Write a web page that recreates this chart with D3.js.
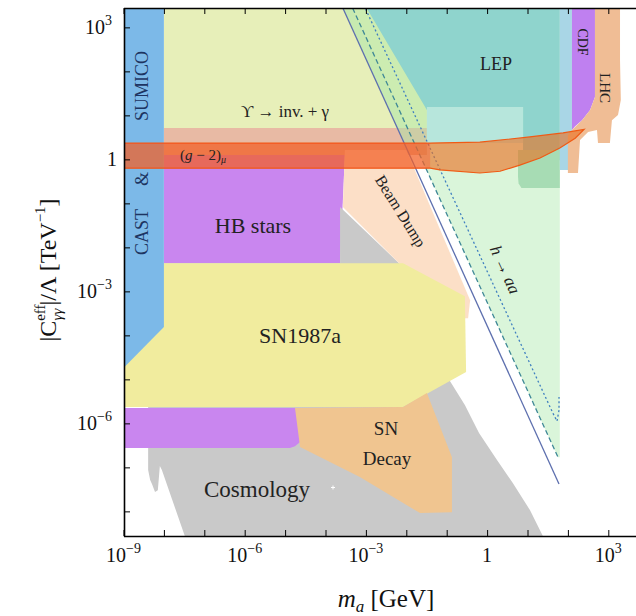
<!DOCTYPE html>
<html><head><meta charset="utf-8">
<script src="https://cdn.jsdelivr.net/npm/d3@7"></script>
<style>
body{margin:0;background:#fff;}
svg{display:block;}
text{font-family:"Liberation Serif","DejaVu Serif",serif;}
</style>
</head><body>
<svg id="c" width="636" height="616"></svg>
<script>
// ---- data: vertices as [log10(m_a / GeV), log10(|C_eff| / Lambda · TeV)] ----
const castSumico = [[-9,3.6],[-8,3.6],[-8,-3.81],[-9,-4.74]];
const upsilon = [[-8,3.6],[-1.49,3.6],[-1.49,0.71],[-8,0.71]];
const salmonBand = [[-8,0.71],[-1.49,0.71],[-1.49,0.10],[-8,0.10]];
const hbStars = [[-8,0.10],[-3.52,0.10],[-3.64,-2.36],[-8,-2.36]];
const beamDump = [[-3.52,0.21],[-2.0,0.21],[-0.42,-3.20],[-0.47,-3.61],[-0.82,-3.61],[-2.18,-2.36],[-3.57,-1.08]];
const cosmology = [[-3.64,-1.08],[-2.18,-2.36],[-0.94,-3.8],[-0.92,-5.04],[-0.55,-5.58],[-0.20,-6.22],[0.245,-6.83],[0.64,-7.36],[1.06,-7.97],[1.38,-8.56],[1.40,-8.7],[-7.43,-8.7],[-8.05,-7.06],[-8.10,-6.97],[-8.15,-7.52],[-8.22,-7.56],[-8.295,-7.38],[-8.34,-7.29],[-8.39,-7.06],[-8.39,-6.56],[-8.39,-2.36],[-3.64,-2.36]];
const sn1987a = [[-9,-2.36],[-2.08,-2.36],[-0.55,-3.11],[-0.52,-4.83],[-2.08,-5.63],[-9,-5.63]];
const hbLow = [[-9,-5.65],[-4.26,-5.65],[-4.235,-5.81],[-4.33,-6.11],[-4.51,-6.33],[-4.755,-6.52],[-4.88,-6.56],[-9,-6.56]];
const snDecay = [[-4.755,-5.65],[-2.08,-5.63],[-1.49,-5.31],[-0.87,-6.77],[-0.87,-8.02],[-1.66,-8.04],[-3.15,-7.22],[-4.63,-6.54]];
const higgsAA = [[-3.41,3.6],[1.755,-6.77],[1.80,-6.77],[1.80,3.6]];
const higgsStrip = [[-3.65,3.6],[-3.41,3.6],[-1.80,0.37],[-2.05,0.37]];
const lepMain = [[-3.10,3.62],[1.80,3.62],[1.80,-0.02],[0.89,-0.02],[0.89,1.19],[-0.84,1.19],[-1.49,1.12]];
const lepLow = [[-1.49,1.19],[0.89,1.19],[0.89,0.37],[-1.49,0.37]];
const lepGreen = [[0.765,0.21],[1.80,0.21],[1.80,-0.65],[0.85,-0.65],[0.78,-0.55],[0.765,-0.4]];
const lepStrip = [[1.80,3.6],[2.10,3.6],[2.10,-0.24],[1.80,-0.24]];
const cdf = [[2.10,3.6],[2.67,3.6],[2.67,1.42],[2.55,1.12],[2.35,0.89],[2.18,0.75],[2.10,0.67]];
const lhc = [[2.67,3.6],[3.29,3.6],[3.29,2.26],[3.31,1.35],[3.24,1.01],[3.09,0.89],[3.04,0.37],[2.745,0.37],[2.72,0.67],[2.50,0.62],[2.30,0.44],[2.25,-0.31],[2.00,-0.31],[2.00,0.55],[2.10,0.67],[2.35,0.89],[2.55,1.12],[2.67,1.42]];
const gMinus2 = [[-9,0.37],[-1.41,0.37],[-0.18,0.39],[1.06,0.51],[1.88,0.60],[2.40,0.68],[2.18,0.48],[1.80,0.26],[1.31,0.03],[0.81,-0.13],[0.32,-0.27],[-0.18,-0.31],[-1.17,-0.24],[-1.41,-0.20],[-9,-0.20]];
const gMinus2Core = [[-9,0.37],[-1.41,0.37],[-1.41,-0.20],[-9,-0.20]];
const lineSolid = [[-3.65,3.6],[1.78,-7.38]];
const lineDashed = [[-3.41,3.6],[1.755,-6.77]];
const lineDotted = [[-3.10,3.6],[1.63,-5.77],[1.73,-5.95],[1.78,-5.70],[1.78,-5.40]];
const xTickExp = [-9,-8,-7,-6,-5,-4,-3,-2,-1,0,1,2,3];
const yTickExp = [-8,-7,-6,-5,-4,-3,-2,-1,0,1,2,3];
const xLabelExp = [-9,-6,-3,0,3];
const yLabelExp = [3,0,-3,-6];

// ---- scales ----
const W = 636, H = 616;
const x = d3.scaleLog().domain([1e-9, 1e4]).range([123.5, 648.7]);
const y = d3.scaleLog().domain([Math.pow(10,-8.56), Math.pow(10,3.44)]).range([536, 8]);
const X = e => x(Math.pow(10, e));
const Y = e => y(Math.pow(10, e));
const svg = d3.select("#c");
const line = d3.line().x(d => X(d[0])).y(d => Y(d[1]));
const area = d3.line().x(d => X(d[0])).y(d => Y(d[1])).curve(d3.curveLinearClosed);

svg.append("clipPath").attr("id","plot").append("rect")
  .attr("x",124).attr("y",8).attr("width",W-124).attr("height",528);
const g = svg.append("g").attr("clip-path","url(#plot)");

const regions = [
  {d: upsilon, fill:"#e7efb9"},
  {d: salmonBand, fill:"#e8baa4"},
  {d: hbStars, fill:"#c986ef"},
  {d: cosmology, fill:"#c9c9c9"},
  {d: beamDump, fill:"#fcdfc7"},
  {d: sn1987a, fill:"#f1ec9e"},
  {d: hbLow, fill:"#c986ef"},
  {d: snDecay, fill:"#f0c590"},
  {d: castSumico, fill:"#7cb9e8"},
  {d: higgsAA, fill:"#a8e6a8", op:0.42},
  {d: higgsStrip, fill:"#a8e6a8", op:0.5},
  {d: lepMain, fill:"#8fd4cd"},
  {d: lepLow, fill:"#b7e6dc"},
  {d: lepGreen, fill:"#a7dcb4"},
  {d: lepStrip, fill:"#a9d6e6"},
  {d: cdf, fill:"#bf80f0"},
  {d: lhc, fill:"#f0bd95"}
];
regions.forEach(r => {
  g.append("path").attr("d", area(r.d)).attr("fill", r.fill)
   .attr("fill-opacity", r.op == null ? 1 : r.op);
});

// h -> aa boundaries
g.append("path").attr("d", line(lineSolid)).attr("fill","none")
  .attr("stroke","#5d6fae").attr("stroke-width",1.3);
g.append("path").attr("d", line(lineDashed)).attr("fill","none")
  .attr("stroke","#3f8896").attr("stroke-width",1.3).attr("stroke-dasharray","5,3");
g.append("path").attr("d", line(lineDotted)).attr("fill","none")
  .attr("stroke","#3f7fc0").attr("stroke-width",1.3).attr("stroke-dasharray","2,2.5");

// (g-2)_mu band
g.append("path").attr("d", area(gMinus2)).attr("fill","#ea7020").attr("fill-opacity",0.62)
  .attr("stroke","#f05a14").attr("stroke-width",1.2);
g.append("path").attr("d", area(gMinus2Core)).attr("fill","#ff4a30").attr("fill-opacity",0.3);

// white marker in cosmology region
g.append("path").attr("d","M331,487.5h4M333,485.5v4").attr("stroke","#fff").attr("stroke-width",1);

// ---- axes (inward ticks) ----
const ax = svg.append("g").attr("class","axes");
const styleAxis = sel => {
  sel.selectAll("path.domain").attr("stroke","#000").attr("stroke-width",1.6);
  sel.selectAll(".tick line").attr("stroke","#000").attr("stroke-width",1);
  sel.selectAll(".tick text").remove();
};
ax.append("g").attr("transform","translate(0,536)")
  .call(d3.axisBottom(x).tickValues(xTickExp.map(e=>Math.pow(10,e))).tickSizeInner(-6).tickSizeOuter(0).tickFormat(""))
  .call(styleAxis);
ax.append("g").attr("transform","translate(0,8)")
  .call(d3.axisTop(x).tickValues(xTickExp.map(e=>Math.pow(10,e))).tickSizeInner(-6).tickSizeOuter(0).tickFormat(""))
  .call(styleAxis);
ax.append("g").attr("transform","translate(124,0)")
  .call(d3.axisLeft(y).tickValues(yTickExp.map(e=>Math.pow(10,e))).tickSizeInner(-6).tickSizeOuter(0).tickFormat(""))
  .call(styleAxis);

// tick labels with superscripts
function powLabel(sel, e, fs) {
  if (e === 0) { sel.text("1"); return; }
  sel.append("tspan").text("10");
  sel.append("tspan").attr("dy", -fs*0.45).attr("font-size", fs*0.7).text(e < 0 ? "\u2212" + (-e) : String(e));
}
xLabelExp.forEach(e => {
  const t = svg.append("text").attr("x", X(e)).attr("y", 562).attr("text-anchor","middle")
    .attr("font-size",20).attr("fill","#111");
  powLabel(t, e, 20);
});
yLabelExp.forEach(e => {
  const t = svg.append("text").attr("x", e === 0 ? 117 : 112).attr("y", Y(e) + 7).attr("text-anchor","end")
    .attr("font-size",20).attr("fill","#111");
  powLabel(t, e, 20);
});

// axis titles
const xt = svg.append("text").attr("x",386).attr("y",607).attr("text-anchor","middle")
  .attr("font-size",25).attr("fill","#111");
xt.append("tspan").attr("font-style","italic").text("m");
xt.append("tspan").attr("font-style","italic").attr("font-size",17).attr("dy",5).text("a");
xt.append("tspan").attr("dy",-5).text(" [GeV]");

const yt = svg.append("text").attr("transform","translate(56,270) rotate(-90)")
  .attr("text-anchor","middle").attr("font-size",24).attr("fill","#111");
yt.append("tspan").text("|C");
yt.append("tspan").attr("font-size",15).attr("dy",-11).text("eff");
yt.append("tspan").attr("font-size",15).attr("font-style","italic").attr("dx",-16).attr("dy",17).text("\u03b3\u03b3");
yt.append("tspan").attr("dx",3).attr("dy",-6).text("|/\u039b [TeV");
yt.append("tspan").attr("font-size",15).attr("dy",-11).text("\u22121");
yt.append("tspan").attr("dy",11).text("]");

// region labels
const lab = (txt, px, py, fs, opt={}) => {
  const t = svg.append("text").attr("x",px).attr("y",py).attr("text-anchor","middle")
    .attr("font-size",fs).attr("fill", opt.fill || "#222");
  if (opt.rot != null) t.attr("transform", `rotate(${opt.rot},${px},${py})`);
  return t.text(txt);
};
lab("SUMICO", 148, 86, 18, {rot:-90, fill:"#1d3461"});
lab("&", 148, 179, 18, {rot:-90, fill:"#1d3461"});
lab("CAST", 148, 232, 18, {rot:-90, fill:"#1d3461"});
lab("\u03d2 \u2192 inv. + \u03b3", 285, 117, 17);
lab("HB stars", 253, 233, 22);
lab("SN1987a", 300, 343, 22);
lab("Cosmology", 257, 497, 23);
lab("SN", 386, 435, 19);
lab("Decay", 387, 465, 19);
lab("LEP", 496, 70, 18);
lab("Beam Dump", 396, 214, 16, {rot:58});
lab("CDF", 578, 42, 14, {rot:90});
lab("LHC", 600, 88, 15, {rot:90});
const gl = svg.append("text").attr("x",180).attr("y",160).attr("font-size",15).attr("fill","#222");
gl.append("tspan").text("(");
gl.append("tspan").attr("font-style","italic").text("g");
gl.append("tspan").text(" \u2212 2)");
gl.append("tspan").attr("font-style","italic").attr("font-size",10).attr("dy",3).text("\u03bc");
const ha = svg.append("text").attr("transform","translate(500,272) rotate(65.6)")
  .attr("text-anchor","middle").attr("font-size",17).attr("fill","#222");
ha.append("tspan").attr("font-style","italic").text("h");
ha.append("tspan").text(" \u2192 ");
ha.append("tspan").attr("font-style","italic").text("aa");
</script>
</body></html>
